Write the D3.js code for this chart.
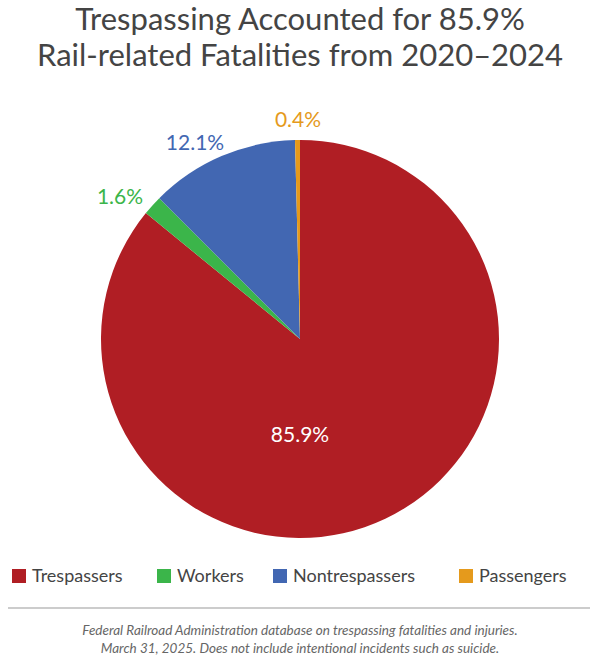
<!DOCTYPE html><html><head><meta charset="utf-8">
<script src="https://cdn.jsdelivr.net/npm/d3@7"></script>
<style>body{margin:0;background:#fff}</style></head><body>
<svg id="c" width="600" height="671"></svg>
<script>
const categories=["Trespassers","Workers","Nontrespassers","Passengers"];
const values=[85.9,1.6,12.1,0.4];
const labels=["85.9%","1.6%","12.1%","0.4%"];
const colors=["#B01E24","#3BB54A","#4267B2","#E59A1C"];
const svg=d3.select("#c"),F="Lato, 'Open Sans', sans-serif";
svg.selectAll("text.t").data(["Trespassing Accounted for 85.9%","Rail-related Fatalities from 2020–2024"]).join("text")
 .attr("x",300).attr("y",(d,i)=>30+i*36).attr("text-anchor","middle").attr("font-family",F)
 .attr("font-size",31).attr("fill","#444").text(d=>d);
const cx=300,cy=339,R=199;
const pie=d3.pie().sort(null)(values);
const arc=d3.arc().innerRadius(0).outerRadius(R);
const g=svg.append("g").attr("transform",`translate(${cx},${cy})`);
g.selectAll("path").data(pie).join("path").attr("d",arc).attr("fill",(d,i)=>colors[i]);
const lblPos=[[0,103],[-180,-135],[-105,-189],[-2,-212]];
g.selectAll("text").data(pie).join("text").attr("font-family",F).attr("font-size",21)
 .attr("text-anchor","middle")
 .attr("x",(d,i)=>lblPos[i][0]).attr("y",(d,i)=>lblPos[i][1])
 .attr("fill",(d,i)=>i==0?"#fff":colors[i]).text((d,i)=>labels[i]);
const lx=[12,157,273,459];
const lg=svg.selectAll("g.l").data(categories).join("g").attr("transform",(d,i)=>`translate(${lx[i]},569)`);
lg.append("rect").attr("width",14).attr("height",14).attr("fill",(d,i)=>colors[i]);
lg.append("text").attr("x",20).attr("y",13).attr("font-family",F).attr("font-size",18).attr("fill","#444").text(d=>d);
svg.append("line").attr("x1",8).attr("x2",590).attr("y1",608).attr("y2",608).attr("stroke","#999");
svg.selectAll("text.f").data(["Federal Railroad Administration database on trespassing fatalities and injuries.","March 31, 2025. Does not include intentional incidents such as suicide."]).join("text")
 .attr("x",300).attr("y",(d,i)=>635+i*18).attr("text-anchor","middle").attr("font-family",F)
 .attr("font-style","italic").attr("font-size",13.5).attr("fill","#666").text(d=>d);
</script></body></html>
